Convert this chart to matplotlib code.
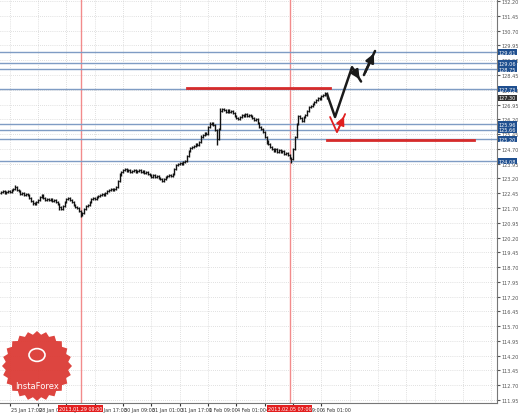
import numpy as np
import matplotlib
matplotlib.use('Agg')
import matplotlib.pyplot as plt
from matplotlib.patches import Polygon
import matplotlib.transforms as mtransforms

# hourly closes, EUR/JPY
closes = [122.51, 122.56, 122.46, 122.51, 122.56, 122.51, 122.61, 122.66, 122.76, 122.61,
          122.56, 122.41, 122.46, 122.36, 122.41, 122.36, 122.20, 122.05, 121.95, 121.90,
          122.00, 122.10, 122.25, 122.36, 122.20, 122.10, 122.15, 122.10, 122.15, 122.05,
          122.10, 122.00, 121.90, 121.75, 121.65, 121.80, 122.00, 122.15, 122.20, 122.10,
          122.00, 121.85, 121.75, 121.70, 121.54, 121.34, 121.44, 121.65, 121.80, 121.85,
          122.00, 122.15, 122.20, 122.15, 122.25, 122.31, 122.36, 122.41, 122.36, 122.46,
          122.56, 122.61, 122.66, 122.61, 122.66, 122.76, 123.07, 123.37, 123.52, 123.63,
          123.68, 123.58, 123.63, 123.52, 123.58, 123.63, 123.52, 123.58, 123.63, 123.52,
          123.58, 123.47, 123.52, 123.42, 123.37, 123.27, 123.37, 123.27, 123.32, 123.22,
          123.17, 123.07, 123.17, 123.27, 123.32, 123.37, 123.32, 123.42, 123.68, 123.88,
          123.93, 123.98, 123.93, 124.03, 124.08, 124.34, 124.59, 124.74, 124.79, 124.84,
          124.95, 124.89, 125.05, 125.30, 125.40, 125.50, 125.45, 125.81, 125.96, 126.01,
          125.91, 125.66, 125.20, 125.71, 126.62, 126.72, 126.67, 126.57, 126.67, 126.57,
          126.62, 126.52, 126.37, 126.26, 126.21, 126.32, 126.42, 126.37, 126.47, 126.37,
          126.42, 126.37, 126.26, 126.16, 126.21, 126.01, 125.81, 125.71, 125.55, 125.30,
          125.10, 124.95, 124.79, 124.69, 124.59, 124.69, 124.54, 124.64, 124.54, 124.59,
          124.44, 124.49, 124.39, 124.23, 124.18, 124.69, 125.30, 125.96, 126.37, 126.26,
          126.11, 126.32, 126.42, 126.62, 126.82, 126.87, 126.98, 127.08, 127.18, 127.28,
          127.23, 127.38, 127.43, 127.53, 127.30]
first_open = 122.48
# a few long wicks
spike_lows = {45: 121.22, 122: 124.90, 164: 123.98, 33: 121.62, 18: 121.85, 150: 124.95}
spike_highs = {8: 122.85, 67: 123.50, 118: 126.08, 124: 126.80, 183: 127.60, 113: 125.42}

price_ticks = [111.95 + 0.75 * i for i in range(28)]
time_tick_bars = [5 + 16 * i for i in range(18)]
time_labels = ['25 Jan 17:00', '28 Jan 09:00', '29 Jan 01:00', '29 Jan 17:00', '30 Jan 09:00',
               '31 Jan 01:00', '31 Jan 17:00', '1 Feb 09:00', '4 Feb 01:00', '4 Feb 17:00',
               '5 Feb 09:00', '6 Feb 01:00']

level_lines = [129.61, 129.06, 128.75, 127.73, 125.96, 125.66, 125.20, 124.08]
current_price = 127.30

red_level_hi = (105, 186, 127.77)
red_level_lo = (184, 267, 125.15)
event_bars = [45, 163]
event_labels = ['2013.01.29 09:00', '2013.02.05 07:00']

black_path1 = [(184.2, 127.48), (188.7, 126.32), (198.3, 128.85), (203.4, 128.12)]
black_path2 = [(205.0, 128.45), (211.3, 129.67)]
red_path = [(185.9, 126.32), (189.8, 125.55), (194.4, 126.47)]

W, H = 518, 414
fig = plt.figure(figsize=(W / 100, H / 100), dpi=100)
ax = fig.add_axes([0, 10 / H, 497 / W, 404 / H])
ax.set_xlim(-0.56, 280.2)
ax.set_ylim(111.80, 132.31)

# grid
for b in time_tick_bars:
    ax.axvline(b, color='#c4c4c4', lw=0.5, ls=(0, (1, 2)), zorder=0)
for p in price_ticks:
    ax.axhline(p, color='#c4c4c4', lw=0.5, ls=(0, (1, 2)), zorder=0)

# event vertical lines
for b in event_bars:
    ax.axvline(b, color='#f28b8b', lw=1, zorder=1)

# support / resistance levels
for lv in level_lines:
    ax.axhline(lv, color='#7f9cc4', lw=1, zorder=1)

# OHLC bars
n = len(closes)
opens = [first_open] + closes[:-1]
highs = [max(o, c) + 0.06 for o, c in zip(opens, closes)]
lows = [min(o, c) - 0.06 for o, c in zip(opens, closes)]
for k, v in spike_lows.items():
    lows[k] = v
for k, v in spike_highs.items():
    highs[k] = v
idx = np.arange(n)
ax.vlines(idx, lows, highs, color='#111111', lw=1.0, zorder=3)
ax.hlines(opens, idx - 0.5, idx, color='#111111', lw=0.8, zorder=3)
ax.hlines(closes, idx, idx + 0.5, color='#111111', lw=0.8, zorder=3)

# red horizontal levels
for x0, x1, y in [red_level_hi, red_level_lo]:
    ax.plot([x0, x1], [y, y], color='#d62b2b', lw=2, zorder=4)

# forecast arrows
def draw_path(pts, color, lw):
    xs = [p[0] for p in pts]
    ys = [p[1] for p in pts]
    ax.plot(xs, ys, color=color, lw=lw, zorder=5, solid_capstyle='round')
    ax.annotate('', xy=pts[-1], xytext=pts[-2],
                arrowprops=dict(arrowstyle='-|>,head_length=0.5,head_width=0.25',
                                color=color, lw=lw), zorder=6)

draw_path(black_path1, '#1a1a1a', 1.8)
draw_path(black_path2, '#1a1a1a', 1.8)
draw_path(red_path, '#e02020', 1.3)

# axes styling
for s in ['top', 'left']:
    ax.spines[s].set_visible(False)
ax.spines['right'].set_color('#777777')
ax.spines['bottom'].set_color('#777777')
ax.yaxis.tick_right()
ax.set_yticks(price_ticks)
ax.set_yticklabels(['%.2f' % p for p in price_ticks])
ax.tick_params(axis='y', labelsize=3.6, colors='#555555', length=2, pad=1.5)
ax.set_xticks(time_tick_bars[:len(time_labels)])
ax.set_xticklabels(time_labels, ha='left')
ax.tick_params(axis='x', labelsize=3.5, colors='#333333', length=2, pad=1)
for lab in ax.get_xticklabels():
    lab.set_transform(lab.get_transform() + mtransforms.ScaledTranslation(1 / 100, 0, fig.dpi_scale_trans))

# right-side price boxes
trans = mtransforms.blended_transform_factory(ax.transAxes, ax.transData)
for lv in level_lines:
    ax.text(1.004, lv, '%.2f' % lv, transform=trans, fontsize=3.6, color='white',
            va='center', ha='left', clip_on=False, zorder=10,
            bbox=dict(boxstyle='square,pad=0.12', fc='#1f4f8f', ec='none'))
ax.text(1.004, current_price, '%.2f' % current_price, transform=trans, fontsize=3.6,
        color='white', va='center', ha='left', clip_on=False, zorder=10,
        bbox=dict(boxstyle='square,pad=0.12', fc='#333333', ec='none'))

# red date boxes on the time axis
tb = mtransforms.blended_transform_factory(ax.transData, ax.transAxes)
for b, t in zip(event_bars, event_labels):
    ax.text(b, -0.007, t, transform=tb, fontsize=3.5, color='white', ha='center', va='top',
            clip_on=False, zorder=10,
            bbox=dict(boxstyle='square,pad=0.2', fc='#e31e1e', ec='none'))

# InstaForex badge
cx, cy, r = 37, 47, 35
ang = np.linspace(0, 2 * np.pi, 49)[:-1]
rad = np.where(np.arange(48) % 2 == 0, r, r * 0.9)
star = np.column_stack([cx + rad * np.cos(ang), cy + rad * np.sin(ang)]) / [W, H]
fig.patches.append(Polygon(star, closed=True, fc='#dc3b35', ec='none', alpha=0.95,
                           transform=fig.transFigure, zorder=20))
fig.text(cx / W, 27 / H, 'InstaForex', fontsize=6, color='white', ha='center', va='center',
         zorder=21)
fig.patches.append(plt.Circle((cx / W, 58 / H), 8 / W, fc='none', ec='white', lw=1.2,
                              transform=fig.transFigure, zorder=21))

fig.savefig('out.png', dpi=100)
